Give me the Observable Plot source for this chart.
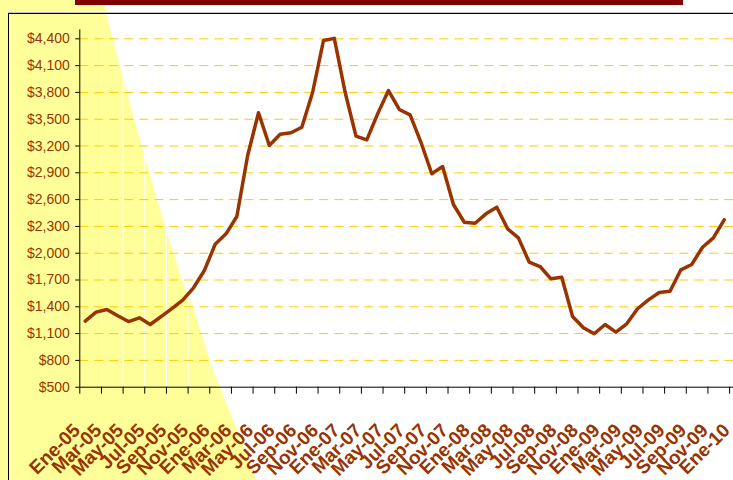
<!DOCTYPE html>
<html><head><meta charset="utf-8">
<script src="https://cdn.jsdelivr.net/npm/d3@7"></script>
<script src="https://cdn.jsdelivr.net/npm/@observablehq/plot@0.6"></script>
<style>
html,body{margin:0;padding:0;background:#fff;}
#wrap{position:relative;width:733px;height:480px;overflow:hidden;background:#fff;font-family:"Liberation Sans",Arial,sans-serif;}
#yellow{position:absolute;left:0;top:0;width:733px;height:480px;background:#FFFF99;
 clip-path:polygon(0px 0px,104px 0px,106px 13px,120px 67px,138px 133px,157px 200px,182px 280px,193px 307px,213px 370px,240px 437px,256px 480px,0px 480px);}
#bar{position:absolute;left:75px;top:0;width:608px;height:5px;background:#800000;}
#frameTop2{position:absolute;left:8px;top:12px;width:725px;height:1px;background:#c8c8c8;}
#frameTop{position:absolute;left:8px;top:13px;width:725px;height:1px;background:#000;}
#frameLeft{position:absolute;left:8px;top:13px;width:1px;height:467px;background:#000;}
#chart{position:absolute;left:0;top:0;}
</style></head>
<body>
<div id="wrap">
  <div id="yellow"></div>
  <div id="bar"></div>
  <div id="frameTop2"></div>
  <div id="frameTop"></div>
  <div id="frameLeft"></div>
  <div id="chart"></div>
</div>
<script>
const months = [
 "Ene-05","Feb-05","Mar-05","Abr-05","May-05","Jun-05","Jul-05","Ago-05","Sep-05","Oct-05","Nov-05","Dic-05",
 "Ene-06","Feb-06","Mar-06","Abr-06","May-06","Jun-06","Jul-06","Ago-06","Sep-06","Oct-06","Nov-06","Dic-06",
 "Ene-07","Feb-07","Mar-07","Abr-07","May-07","Jun-07","Jul-07","Ago-07","Sep-07","Oct-07","Nov-07","Dic-07",
 "Ene-08","Feb-08","Mar-08","Abr-08","May-08","Jun-08","Jul-08","Ago-08","Sep-08","Oct-08","Nov-08","Dic-08",
 "Ene-09","Feb-09","Mar-09","Abr-09","May-09","Jun-09","Jul-09","Ago-09","Sep-09","Oct-09","Nov-09","Dic-09"
];
const prices = [
 1240,1340,1370,1300,1235,1277,1202,1290,1380,1475,1613,1806,
 2100,2217,2411,3094,3572,3206,3332,3348,3410,3802,4381,4405,
 3802,3310,3269,3560,3821,3609,3549,3242,2889,2970,2545,2347,
 2336,2441,2515,2273,2172,1899,1851,1713,1731,1291,1165,1098,
 1202,1116,1210,1378,1478,1560,1575,1814,1874,2067,2172,2374
];
const tickLabels = [
 "Ene-05","Mar-05","May-05","Jul-05","Sep-05","Nov-05",
 "Ene-06","Mar-06","May-06","Jul-06","Sep-06","Nov-06",
 "Ene-07","Mar-07","May-07","Jul-07","Sep-07","Nov-07",
 "Ene-08","Mar-08","May-08","Jul-08","Sep-08","Nov-08",
 "Ene-09","Mar-09","May-09","Jul-09","Sep-09","Nov-09","Ene-10"
];
const yTicks = [500,800,1100,1400,1700,2000,2300,2600,2900,3200,3500,3800,4100,4400];

const data = months.map((m, i) => ({month: m, pos: i + 0.5, value: prices[i]}));
const ticks = tickLabels.map((t, k) => ({label: t, pos: 2 * k}));
const fmt = d => "$" + d3.format(",")(d);

const plot = Plot.plot({
  width: 733, height: 480,
  marginLeft: 79.3, marginRight: 0, marginTop: 29.4, marginBottom: 93.3,
  style: {background: "transparent", fontFamily: "'Liberation Sans', Arial, sans-serif", overflow: "visible", color: "#000"},
  x: {type: "linear", domain: [0, 60.36], axis: null},
  y: {type: "linear", domain: [500, 4500], axis: null},
  marks: [
    Plot.ruleX(ticks.slice(1), {x: "pos", stroke: "#ffffff", strokeWidth: 1}),
    Plot.ruleY(yTicks.slice(1), {y: d => d, stroke: "#FFCC00", strokeWidth: 1, strokeDasharray: "9,6"}),
    Plot.line(data, {x: "pos", y: "value", stroke: "#993300", strokeWidth: 3.5, strokeLinejoin: "round"}),
    Plot.ruleX([0], {stroke: "#000", strokeWidth: 1}),
    Plot.ruleY([500], {stroke: "#000", strokeWidth: 1}),
    Plot.ruleY(yTicks, {y: d => d, x1: () => 0, x2: () => 0, insetLeft: -4, stroke: "#000"}),
    Plot.ruleX(ticks, {x: "pos", y1: () => 500, y2: () => 500, insetBottom: -7, stroke: "#000"}),
    Plot.text(yTicks, {y: d => d, frameAnchor: "left", dx: -10, textAnchor: "end", text: fmt,
      fill: "#993300", fontSize: 14, ariaLabel: "ylabels"}),
    Plot.text(ticks, {x: "pos", y: () => 500, text: "label", rotate: -45, textAnchor: "end",
      dx: -3, dy: 40, fill: "#993300", fontSize: 19, fontWeight: "bold"})
  ]
});
document.getElementById("chart").appendChild(plot);
// condense the y-axis labels horizontally, as in the reference
plot.querySelectorAll('g[aria-label="ylabels"] text').forEach(el => {
  const w = el.getComputedTextLength();
  el.setAttribute("textLength", (w * 0.8).toFixed(2));
  el.setAttribute("lengthAdjust", "spacingAndGlyphs");
});
</script>
</body></html>
